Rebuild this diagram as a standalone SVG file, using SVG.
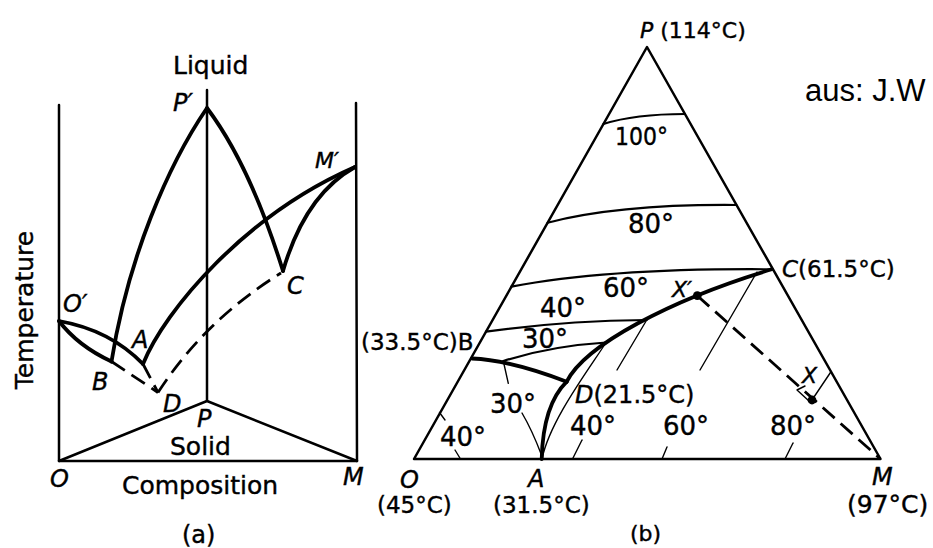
<svg xmlns="http://www.w3.org/2000/svg" width="933" height="548" viewBox="0 0 933 548">
<style>
.t{font-family:"DejaVu Sans","Liberation Sans",sans-serif;fill:#000;stroke:#000;stroke-width:0.4}
.i{font-style:italic}
.ln{fill:none;stroke:#000;stroke-linecap:round;stroke-linejoin:round}
.frame{stroke-width:2.5}
.thick{stroke-width:3.8}
.iso{stroke-width:2.2}
.thin{stroke-width:1.4}
.dash{stroke-width:2.8;stroke-dasharray:16 8;stroke-linecap:butt}
</style>
<rect width="933" height="548" fill="#fff"/>

<g id="diagram-a">
  <g id="a-frame">
    <path class="ln frame" d="M59 105 L59 461 L357 461 L356 103"/>
    <path class="ln frame" d="M207 90 L207 401"/>
    <path class="ln frame" d="M59 461 L207 401 L357 461"/>
  </g>
  <g id="a-curves">
    <path class="ln thick" d="M207 108 C168 165 128 258 111.5 361.5"/>
    <path class="ln thick" d="M207 108 Q250 165 283 271"/>
    <path class="ln thick" d="M283 271 Q305 195 355 167"/>
    <path class="ln thick" d="M143 364 C165 310 245 215 355 167"/>
    <path class="ln thick" d="M59 321 Q110 330 143 364"/>
    <path class="ln thick" d="M59 321 Q78 346 111.5 361.5"/>
  </g>
  <g id="a-dashed">
    <path class="ln dash" d="M111.5 361.5 L158 392.5"/>
    <path class="ln dash" d="M143 364 L158 392.5"/>
    <path class="ln dash" d="M158 392.5 Q205 320 281 273"/>
  </g>
  <g id="a-labels">
    <text class="t" x="173" y="74" font-size="25">Liquid</text>
    <text class="t i" x="173" y="111" font-size="24">P′</text>
    <text class="t i" x="315" y="168" font-size="22">M′</text>
    <text class="t i" x="287" y="294" font-size="24">C</text>
    <text class="t i" x="63" y="312" font-size="24">O′</text>
    <text class="t i" x="132" y="348" font-size="24">A</text>
    <text class="t i" x="92" y="390" font-size="24">B</text>
    <text class="t i" x="163" y="412" font-size="24">D</text>
    <text class="t i" x="197" y="427" font-size="24">P</text>
    <text class="t" x="170" y="455" font-size="25">Solid</text>
    <text class="t i" x="50" y="487" font-size="24">O</text>
    <text class="t i" x="343" y="485" font-size="24">M</text>
    <text class="t" x="122" y="494" font-size="25">Composition</text>
    <text class="t" x="182" y="543" font-size="24">(a)</text>
    <text class="t" transform="translate(33 310) rotate(-90)" text-anchor="middle" font-size="25">Temperature</text>
  </g>
</g>

<g id="diagram-b">
  <g id="b-triangle">
    <path class="ln frame" d="M414 459 L647 47 L880.5 459 Z"/>
  </g>
  <g id="b-isotherms">
    <path class="ln iso" d="M603.4 124 Q635 114 684.9 114"/>
    <path class="ln iso" d="M547.6 222.7 Q620 204 736.3 205"/>
    <path class="ln iso" d="M511.4 286.7 Q610 268 771.7 269.3"/>
    <path class="ln iso" d="M486 331.7 Q560 321 646.7 320"/>
    <path class="ln iso" d="M503.3 361 Q550 346 606 342.5"/>
  </g>
  <g id="b-thin-isotherms">
    <path class="ln thin" d="M439.5 412.5 L445 420"/>
    <path class="ln thin" d="M455 450 L460.5 459"/>
    <path class="ln thin" d="M503.3 361 L508.3 383.3"/>
    <path class="ln thin" d="M522 413 Q532 430 541.5 455"/>
    <path class="ln thin" d="M606 342.5 C590 368 550 420 542 459"/>
    <path class="ln thin" d="M646.7 320 L617 370"/>
    <path class="ln thin" d="M582 440 L572.5 459"/>
    <path class="ln thin" d="M757 272 L700 370"/>
    <path class="ln thin" d="M667 447 L662 459"/>
    <path class="ln thin" d="M830.8 372 L812 400"/>
    <path class="ln thin" d="M793 443 L785 459"/>
    <path class="ln thin" d="M797 390 L805 386 M797 390 L809 401"/>
  </g>
  <g id="b-eutectic">
    <path class="ln thick" d="M472 358.5 Q510 360 566.7 381.7"/>
    <path class="ln thick" d="M541.7 459 Q543 405 566.7 381.7"/>
    <path class="ln thick" d="M566.7 381.7 C585 345 670 300 771.7 269.3"/>
  </g>
  <g id="b-tieline">
    <path class="ln dash" d="M697.3 295.7 L880.5 459"/>
    <circle cx="697.3" cy="295.7" r="4.4" fill="#000"/>
    <circle cx="812" cy="400" r="4.4" fill="#000"/>
  </g>
  <g id="b-labels">
    <text class="t" x="640" y="38" font-size="22"><tspan class="i">P</tspan> (114°C)</text>
    <text x="805" y="101" font-family="Liberation Sans, Arial, sans-serif" font-size="31" fill="#000">aus: J.W</text>
    <text class="t" x="615" y="145" font-size="25" textLength="53" lengthAdjust="spacingAndGlyphs">100°</text>
    <text class="t" x="628" y="233" font-size="26">80°</text>
    <text class="t" x="603" y="296.7" font-size="26">60°</text>
    <text class="t" x="540" y="316.7" font-size="26">40°</text>
    <text class="t" x="522" y="348" font-size="26">30°</text>
    <text class="t" x="361" y="350" font-size="23">(33.5°C)B</text>
    <text class="t" x="782" y="276.7" font-size="23"><tspan class="i">C</tspan>(61.5°C)</text>
    <text class="t i" x="672" y="297" font-size="22">X′</text>
    <text class="t i" x="802" y="383" font-size="22">X</text>
    <text class="t" x="575" y="403" font-size="24"><tspan class="i">D</tspan>(21.5°C)</text>
    <text class="t" x="490" y="413" font-size="26">30°</text>
    <text class="t" x="440" y="446" font-size="26">40°</text>
    <text class="t" x="570" y="435" font-size="26">40°</text>
    <text class="t" x="663" y="435" font-size="26">60°</text>
    <text class="t" x="770" y="435" font-size="26">80°</text>
    <text class="t i" x="400" y="488" font-size="24">O</text>
    <text class="t" x="377" y="513" font-size="23">(45°C)</text>
    <text class="t i" x="528" y="487" font-size="24">A</text>
    <text class="t" x="493" y="513" font-size="23">(31.5°C)</text>
    <text class="t i" x="872" y="485" font-size="24">M</text>
    <text class="t" x="847" y="513" font-size="25">(97°C)</text>
    <text class="t" x="630" y="541" font-size="22">(b)</text>
  </g>
</g>
</svg>
